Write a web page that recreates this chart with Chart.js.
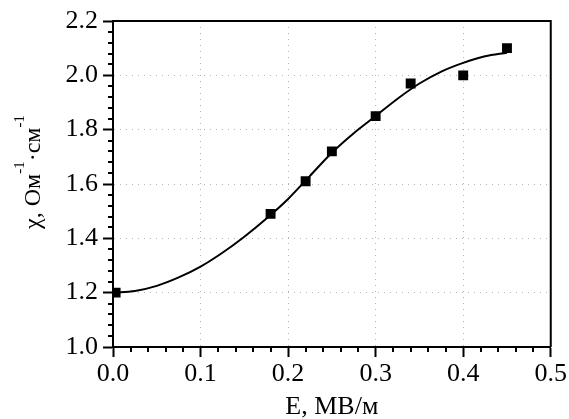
<!DOCTYPE html>
<html>
<head>
<meta charset="utf-8">
<script src="https://cdn.jsdelivr.net/npm/chart.js@4/dist/chart.umd.min.js"></script>
<style>
  html, body { margin: 0; padding: 0; background: #fff; }
  #wrap { width: 569px; height: 419px; }
</style>
</head>
<body>
<div id="wrap"><canvas id="myChart" width="569" height="419"></canvas></div>
<script>
// measured points (squares)
const fieldE = [0.003, 0.18, 0.22, 0.25, 0.30, 0.34, 0.40, 0.45];
const chiMeasured = [1.20, 1.49, 1.61, 1.72, 1.85, 1.97, 2.00, 2.10];

// fitted curve
const fitE = [0, 0.025, 0.05, 0.075, 0.1, 0.125, 0.15, 0.175, 0.2, 0.225, 0.25, 0.275, 0.3, 0.325, 0.35, 0.375, 0.4, 0.425, 0.45];
const fitChi = [1.200, 1.206, 1.225, 1.256, 1.296, 1.347, 1.406, 1.472, 1.545, 1.630, 1.715, 1.787, 1.850, 1.914, 1.970, 2.014, 2.046, 2.070, 2.083];

// axis ticks
const xTickValues = [0.0, 0.1, 0.2, 0.3, 0.4, 0.5];
const yTickValues = [1.0, 1.2, 1.4, 1.6, 1.8, 2.0, 2.2];
const xMinorStep = 0.02;
const yMinorStep = 0.04;

const xTitle = 'E, МВ/м';
const fontFamily = '"Liberation Serif", "Times New Roman", serif';

// minor ticks, box and the y title with superscripts
const decor = {
  id: 'decor',
  afterDraw(chart) {
    const c = chart.ctx;
    const a = chart.chartArea;
    const sx = chart.scales.x, sy = chart.scales.y;
    c.save();
    c.strokeStyle = '#000';
    c.lineWidth = 2;
    c.beginPath();
    for (let i = 1; i * xMinorStep < 0.5 - 1e-9; i++) {
      if (i % 5 === 0) continue;
      const px = Math.round(sx.getPixelForValue(i * xMinorStep));
      c.moveTo(px, a.bottom);
      c.lineTo(px, a.bottom + 5);
    }
    for (let i = 1; 1 + i * yMinorStep < 2.2 - 1e-9; i++) {
      if (i % 5 === 0) continue;
      const py = Math.round(sy.getPixelForValue(1 + i * yMinorStep));
      c.moveTo(a.left, py);
      c.lineTo(a.left - 5, py);
    }
    c.stroke();
    // top and right border
    c.beginPath();
    c.moveTo(a.left, a.top);
    c.lineTo(a.right, a.top);
    c.lineTo(a.right, a.bottom);
    c.stroke();

    // y title
    const parts = [
      ['χ, Ом', false],
      ['-1', true],
      ['·см', false],
      ['-1', true]
    ];
    const big = '24px ' + fontFamily, small = '15px ' + fontFamily;
    let total = 0;
    parts.forEach(p => { c.font = p[1] ? small : big; total += c.measureText(p[0]).width; });
    c.translate(40, (a.top + a.bottom) / 2 - 12);
    c.rotate(-Math.PI / 2);
    c.fillStyle = '#000';
    c.textBaseline = 'alphabetic';
    c.textAlign = 'left';
    let x = -total / 2;
    parts.forEach(p => {
      c.font = p[1] ? small : big;
      c.fillText(p[0], x, p[1] ? -16 : 0);
      x += c.measureText(p[0]).width;
    });
    c.restore();
  }
};

const ctx = document.getElementById('myChart');
const chart = new Chart(ctx, {
  type: 'scatter',
  data: {
    datasets: [{
      label: 'fit',
      data: fitE.map((e, i) => ({ x: e, y: fitChi[i] })),
      showLine: true,
      borderColor: '#000',
      borderWidth: 2,
      pointRadius: 0,
      cubicInterpolationMode: 'monotone',
      order: 2
    }, {
      label: 'χ',
      data: fieldE.map((e, i) => ({ x: e, y: chiMeasured[i] })),
      pointStyle: 'rect',
      pointRadius: 7,
      borderWidth: 0,
      backgroundColor: '#000',
      order: 1
    }]
  },
  options: {
    responsive: false,
    animation: false,
    layout: { padding: { top: 21, right: 17, left: 0, bottom: 0 } },
    plugins: { legend: { display: false }, tooltip: { enabled: false } },
    scales: {
      x: {
        type: 'linear',
        min: 0,
        max: 0.5,
        afterBuildTicks: s => { s.ticks = xTickValues.map(v => ({ value: v })); },
        afterFit: s => { s.height = 72; },
        ticks: {
          color: '#000',
          padding: 2,
          maxRotation: 0,
          font: { family: fontFamily, size: 26 },
          callback: v => v.toFixed(1)
        },
        grid: {
          color: '#b4b4b4',
          lineWidth: 1,
          tickColor: '#000',
          tickWidth: 2,
          tickLength: 10
        },
        border: { display: true, color: '#000', width: 2, dash: [1, 5] },
        title: {
          display: true,
          text: xTitle,
          color: '#000',
          padding: { top: 0, bottom: -4 },
          font: { family: fontFamily, size: 26 }
        }
      },
      y: {
        type: 'linear',
        min: 1.0,
        max: 2.2,
        afterBuildTicks: s => { s.ticks = yTickValues.map(v => ({ value: v })); },
        afterFit: s => { s.width = 113; },
        ticks: {
          color: '#000',
          padding: 5,
          font: { family: fontFamily, size: 26 },
          callback: v => v.toFixed(1)
        },
        grid: {
          color: '#b4b4b4',
          lineWidth: 1,
          tickColor: '#000',
          tickWidth: 2,
          tickLength: 10
        },
        border: { display: true, color: '#000', width: 2, dash: [1, 5] }
      }
    }
  },
  plugins: [decor]
});
</script>
</body>
</html>
